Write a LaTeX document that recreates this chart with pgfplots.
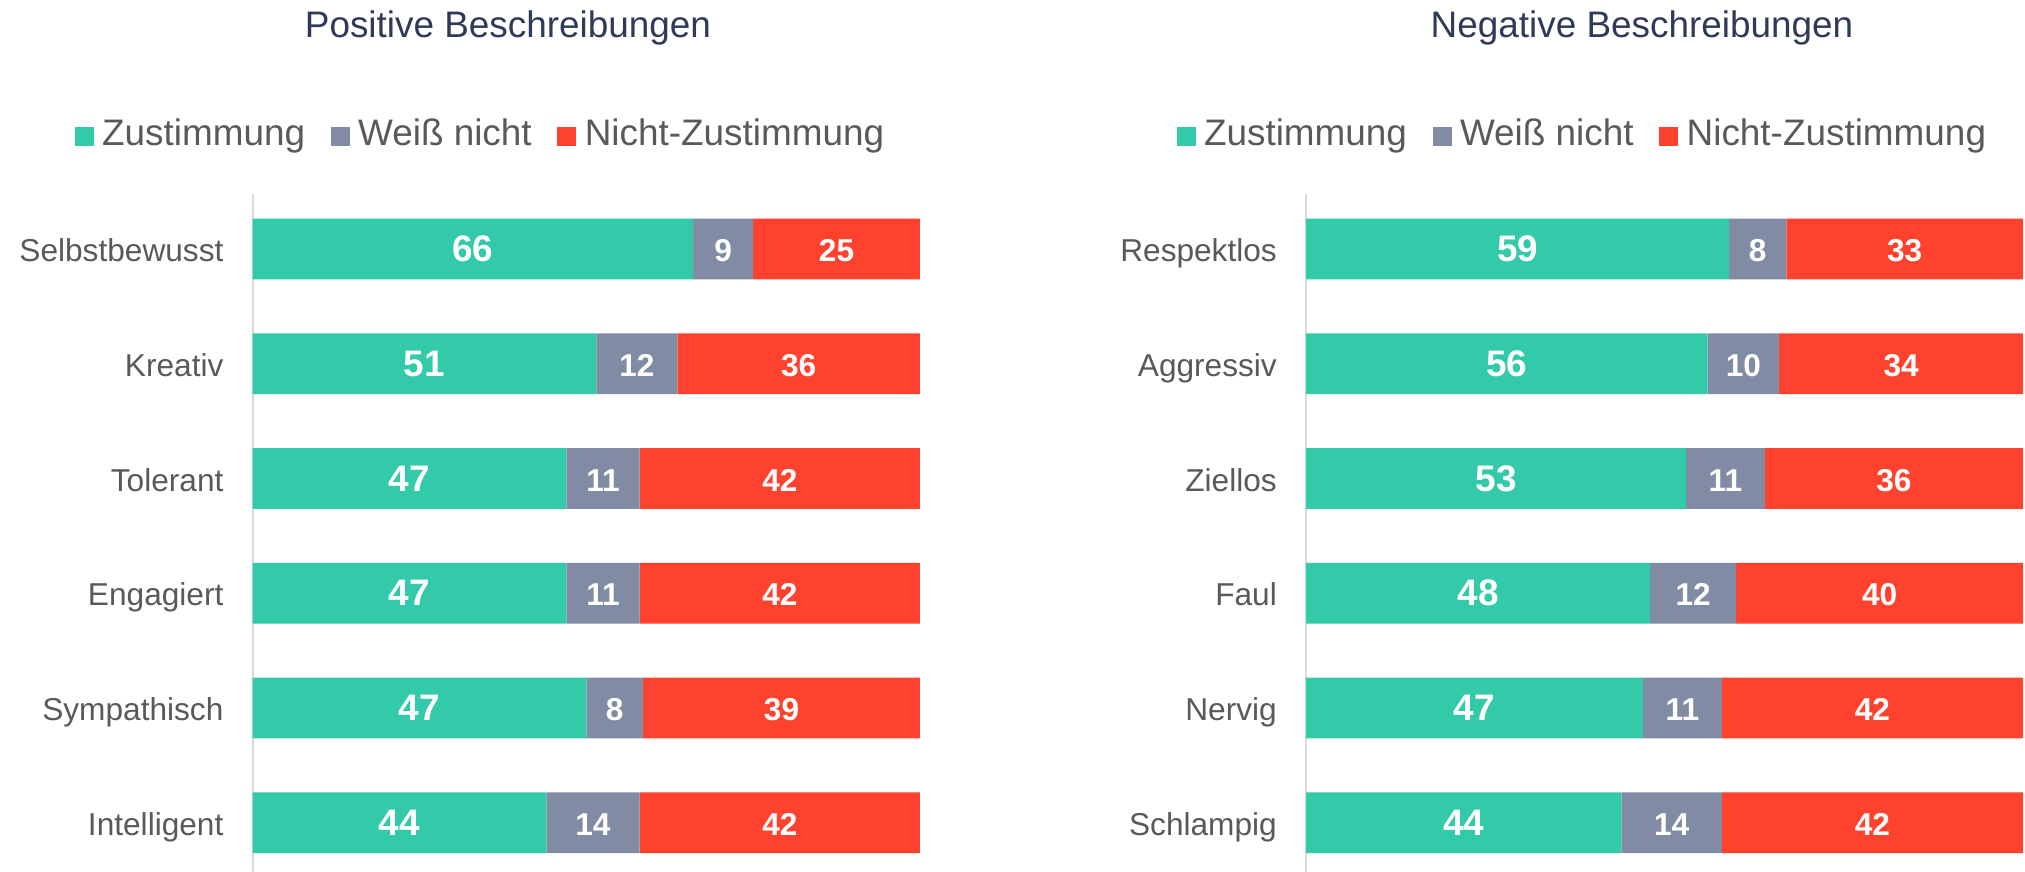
\documentclass[border=0pt]{standalone}
\usepackage{fontspec}
\setmainfont{Liberation Sans}
\usepackage{pgfplots}
\pgfplotsset{compat=1.18}

\definecolor{zust}{HTML}{32CAA8}
\definecolor{weiss}{HTML}{818CA4}
\definecolor{nicht}{HTML}{FF422D}
\definecolor{titlecol}{HTML}{2E3A57}
\definecolor{labcol}{HTML}{595959}
\definecolor{axcol}{HTML}{D9D9D9}

\pgfplotsset{
  % gemeinsame Geometrie fuer Balken- und Beschriftungsachse
  frame/.style={
    scale only axis,
    height=6.78cm,
    xmin=0, xmax=100,
    ymin=-0.48, ymax=5.43,
    enlargelimits=false,
    y dir=reverse,
    anchor=south west,
  },
  leftpanel/.style={frame, at={(2.526cm,0cm)}, width=6.674cm},
  rightpanel/.style={frame, at={(13.06cm,0cm)}, width=7.17cm},
  bars/.style={
    xbar stacked,
    bar width=0.607cm,
    axis x line=none,
    axis y line*=left,
    y axis line style={draw=axcol, line width=0.6pt},
    ytick={0,...,5},
    major tick length=0pt,
    ytick style={draw=none},
    yticklabel style={font=\fontsize{9}{11}\selectfont, text=labcol, inner sep=0pt,
      text height=0.72em, text depth=0pt, xshift=-0.285cm},
    legend columns=3,
    legend cell align=left,
    legend image code/.code={\fill[#1, draw=none] (0cm,-0.095cm) rectangle (0.19cm,0.095cm);},
    legend style={draw=none, fill=none, inner sep=0pt, outer sep=0pt, anchor=west,
      font=\fontsize{10.5}{12}\selectfont, text=labcol,
      nodes={inner sep=0pt, text height=0.73em, text depth=0.21em},
      /tikz/every odd column/.append style={column sep=0.085cm},
      /tikz/every even column/.append style={column sep=0.255cm}},
  },
  labels/.style={
    hide axis,
    clip=false,
    point meta=explicit symbolic,
    nodes near coords,
    every node near coord/.append style={anchor=center, text=white,
      text height=0.72em, text depth=0pt},
  },
  big/.style={only marks, mark=none,
    every node near coord/.append style={font=\bfseries\fontsize{10.5}{12}\selectfont}},
  small/.style={only marks, mark=none,
    every node near coord/.append style={font=\bfseries\fontsize{9}{11}\selectfont}},
}

\begin{document}
\begin{tikzpicture}
\useasboundingbox (0,0) rectangle (20.25cm,8.72cm);

\node[anchor=base, inner sep=0pt, font=\fontsize{10.5}{12}\selectfont, text=titlecol]
  at (5.08cm,8.347cm) {Positive Beschreibungen};
\node[anchor=base, inner sep=0pt, font=\fontsize{10.5}{12}\selectfont, text=titlecol]
  at (16.42cm,8.347cm) {Negative Beschreibungen};

% Positive Beschreibungen: Balken auf 100 normiert
\begin{axis}[leftpanel, bars,
  yticklabels={Selbstbewusst,Kreativ,Tolerant,Engagiert,Sympathisch,Intelligent},
  legend style={at={(-0.2667,1.0854)}},
]
\addplot[fill=zust, draw=none] coordinates
  {(66,0) (51.52,1) (47,2) (47,3) (50.00,4) (44,5)};
\addplot[fill=weiss, draw=none] coordinates
  {(9,0) (12.12,1) (11,2) (11,3) (8.51,4) (14,5)};
\addplot[fill=nicht, draw=none] coordinates
  {(25,0) (36.36,1) (42,2) (42,3) (41.49,4) (42,5)};
\legend{Zustimmung, Weiß nicht, Nicht-Zustimmung}
\end{axis}

% Beschriftungen (Rohwerte) in der Mitte der Segmente
\begin{axis}[leftpanel, labels]
\addplot[big] coordinates
  {(33,0)[66] (25.76,1)[51] (23.5,2)[47] (23.5,3)[47] (25,4)[47] (22,5)[44]};
\addplot[small] coordinates
  {(70.5,0)[9] (57.58,1)[12] (52.5,2)[11] (52.5,3)[11] (54.26,4)[8] (51,5)[14]};
\addplot[small] coordinates
  {(87.5,0)[25] (81.82,1)[36] (79,2)[42] (79,3)[42] (79.26,4)[39] (79,5)[42]};
\end{axis}

% Negative Beschreibungen
\begin{axis}[rightpanel, bars,
  yticklabels={Respektlos,Aggressiv,Ziellos,Faul,Nervig,Schlampig},
  legend style={at={(-0.1806,1.0854)}},
]
\addplot[fill=zust, draw=none] coordinates
  {(59,0) (56,1) (53,2) (48,3) (47,4) (44,5)};
\addplot[fill=weiss, draw=none] coordinates
  {(8,0) (10,1) (11,2) (12,3) (11,4) (14,5)};
\addplot[fill=nicht, draw=none] coordinates
  {(33,0) (34,1) (36,2) (40,3) (42,4) (42,5)};
\legend{Zustimmung, Weiß nicht, Nicht-Zustimmung}
\end{axis}

\begin{axis}[rightpanel, labels]
\addplot[big] coordinates
  {(29.5,0)[59] (28,1)[56] (26.5,2)[53] (24,3)[48] (23.5,4)[47] (22,5)[44]};
\addplot[small] coordinates
  {(63,0)[8] (61,1)[10] (58.5,2)[11] (54,3)[12] (52.5,4)[11] (51,5)[14]};
\addplot[small] coordinates
  {(83.5,0)[33] (83,1)[34] (82,2)[36] (80,3)[40] (79,4)[42] (79,5)[42]};
\end{axis}
\end{tikzpicture}
\end{document}
